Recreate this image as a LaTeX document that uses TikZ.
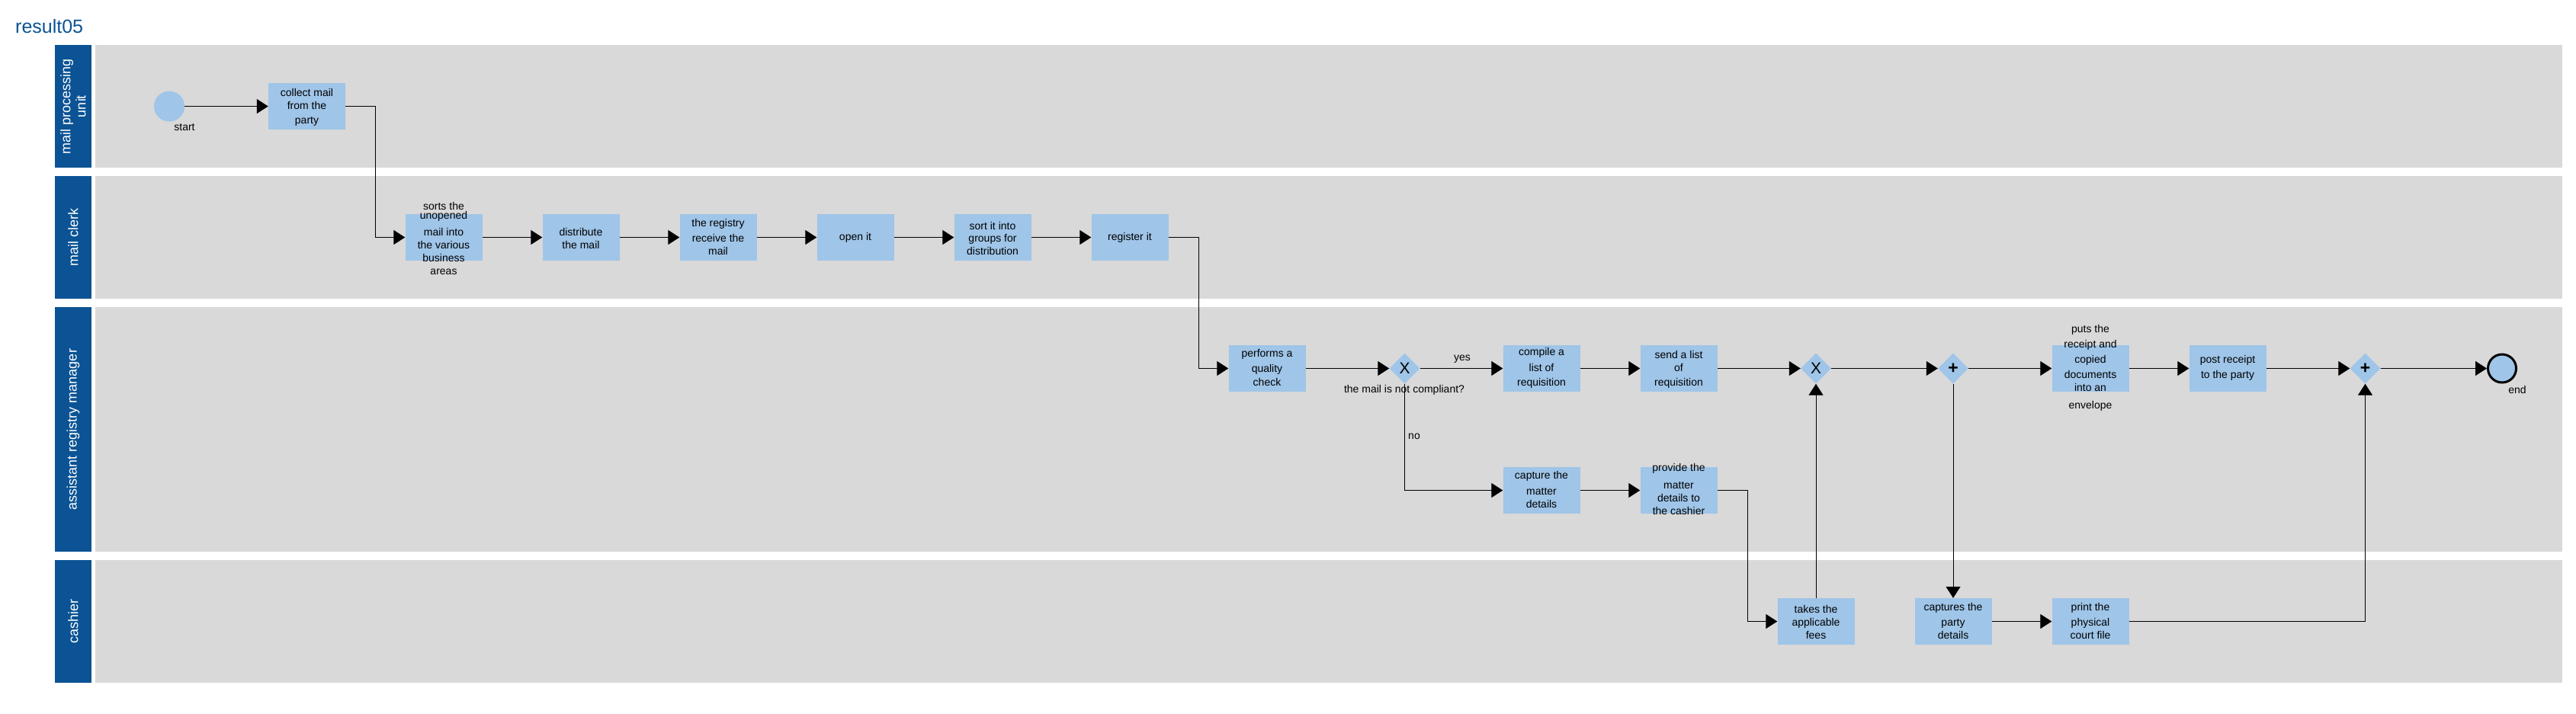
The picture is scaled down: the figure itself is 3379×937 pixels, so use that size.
\documentclass[tikz,border=0pt]{standalone}
\usepackage{fontspec}
\setmainfont{Liberation Sans}
\usetikzlibrary{shapes.geometric,arrows.meta,calc}
\definecolor{lanebg}{HTML}{D9D9D9}
\definecolor{hdrblue}{HTML}{0B5394}
\definecolor{taskblue}{HTML}{9FC5E8}
\begin{document}
\begin{tikzpicture}[x=1pt,y=-1pt,
  task/.style={rectangle, fill=taskblue, minimum width=101pt, minimum height=61pt, inner sep=0pt},
  ttext/.style={align=center, font=\fontsize{14}{18}\selectfont, inner sep=0pt},
  gate/.style={diamond, fill=taskblue, minimum width=40pt, minimum height=40pt, inner sep=0pt},
  xorg/.style={gate, font=\fontsize{21}{21}\selectfont},
  andg/.style={gate, font=\fontsize{23}{23}\selectfont\bfseries},
  evstart/.style={circle, fill=taskblue, minimum size=40pt, inner sep=0pt},
  evend/.style={circle, fill=taskblue, draw=black, line width=3pt, minimum size=37pt, inner sep=0pt},
  lbl/.style={font=\fontsize{14}{16}\selectfont, inner sep=0pt},
  flow/.style={line width=1.3pt, -{Triangle[length=15pt,width=19pt]}},
  thinflow/.style={flow, line width=1pt},
  lanebody/.style={fill=lanebg},
  lanehdr/.style={fill=hdrblue},
  hdrtext/.style={text=white, rotate=90, align=center, inner sep=0pt, font=\fontsize{18}{20}\selectfont}
]
\useasboundingbox (0,0) rectangle (3379,937);
\fill[white] (0,0) rectangle (3379,937);

% title
\node[anchor=base west, text=hdrblue, inner sep=0pt, font=\fontsize{25}{30}\selectfont] (title) at (20,43) {result05};

% lanes
\fill[lanehdr] (72,59) rectangle (120,220);
\fill[lanebody] (125,59) rectangle (3361,220);
\node[hdrtext] (h1) at (96,139.5) {mail processing\\unit};
\fill[lanehdr] (72,231) rectangle (120,392);
\fill[lanebody] (125,231) rectangle (3361,392);
\node[hdrtext] (h2) at (96,311.5) {mail clerk};
\fill[lanehdr] (72,403) rectangle (120,724);
\fill[lanebody] (125,403) rectangle (3361,724);
\node[hdrtext] (h3) at (96,563.5) {assistant registry manager};
\fill[lanehdr] (72,735) rectangle (120,896);
\fill[lanebody] (125,735) rectangle (3361,896);
\node[hdrtext] (h4) at (96,815.5) {cashier};

% lane 1
\node[evstart] (start) at (222,139.5) {};
\node[lbl] (startl) at (242,167) {start};
\node[task] (collect) at (402.5,139.5) {};
\node[ttext] at (402.5,141) {collect mail\\[-1pt]from the\\[1pt]party};

% lane 2
\node[task] (sorts) at (582,311.5) {};
\node[ttext] at (582,312.5) {sorts the\\[-6pt]unopened\\[4pt]mail into\\[-1pt]the various\\[-1pt]business\\[-1pt]areas};
\node[task] (distrib) at (762,311.5) {};
\node[ttext] at (762,312.5) {distribute\\[-1pt]the mail};
\node[task] (registry) at (942,311.5) {};
\node[ttext] at (942,310.5) {the registry\\[2pt]receive the\\[-1pt]mail};
\node[task] (openit) at (1122,311.5) {};
\node[ttext] at (1122,311.5) {open it};
\node[task] (sortit) at (1302,311.5) {};
\node[ttext] at (1302,312.5) {sort it into\\[-2pt]groups for\\[-1pt]distribution};
\node[task] (register) at (1482,311.5) {};
\node[ttext] at (1482,311.5) {register it};

% lane 3
\node[task] (qcheck) at (1662,483.5) {};
\node[ttext] at (1662,482) {performs a\\[2pt]quality\\check};
\node[xorg] (x1) at (1842.5,483.5) {X};
\node[lbl] (x1l) at (1842,512) {the mail is not compliant?};
\node[lbl] (yes) at (1918,471) {yes};
\node[lbl] (no) at (1855,573) {no};
\node[task] (compile) at (2022,483.5) {};
\node[ttext] at (2022,483) {compile a\\[3pt]list of\\[1pt]requisition};
\node[task] (sendlist) at (2202,483.5) {};
\node[ttext] at (2202,485) {send a list\\[-1pt]of\\[1pt]requisition};
\node[xorg] (x2) at (2382,483.5) {X};
\node[andg] (p1) at (2562,483.5) {+};
\node[task] (puts) at (2742,483.5) {};
\node[ttext] at (2742,483) {puts the\\[2pt]receipt and\\[2pt]copied\\[2pt]documents\\[-1pt]into an\\[5pt]envelope};
\node[task] (post) at (2922,483.5) {};
\node[ttext] at (2922,483) {post receipt\\[2pt]to the party};
\node[andg] (p2) at (3102.5,483.5) {+};
\node[evend] (endev) at (3282,483.5) {};
\node[lbl] (endl) at (3302,511) {end};

\node[task] (capture) at (2022,643.5) {};
\node[ttext] at (2022,642) {capture the\\[3pt]matter\\[-1pt]details};
\node[task] (provide) at (2202,643.5) {};
\node[ttext] at (2202,641.5) {provide the\\[5pt]matter\\[-1pt]details to\\[-1pt]the cashier};

% lane 4
\node[task] (takes) at (2382,815.5) {};
\node[ttext] at (2382,816) {takes the\\[-1pt]applicable\\[-1pt]fees};
\node[task] (captures) at (2562,815.5) {};
\node[ttext] at (2562,814.5) {captures the\\[2pt]party\\[-1pt]details};
\node[task] (print) at (2742,815.5) {};
\node[ttext] at (2742,814.5) {print the\\[2pt]physical\\[-1pt]court file};

% flows
\draw[flow] (start) -- (collect);
\draw[flow] (collect.east) -- ++(39.5,0) |- (sorts.west);
\draw[flow] (sorts) -- (distrib);
\draw[flow] (distrib) -- (registry);
\draw[flow] (registry) -- (openit);
\draw[flow] (openit) -- (sortit);
\draw[flow] (sortit) -- (register);
\draw[flow] (register.east) -- ++(40,0) |- (qcheck.west);
\draw[flow] (qcheck) -- (x1);
\draw[flow] (x1) -- (compile);
\draw[flow] (x1.south) |- (capture.west);
\draw[flow] (compile) -- (sendlist);
\draw[flow] (sendlist) -- (x2);
\draw[flow] (capture) -- (provide);
\draw[flow] (provide.east) -- ++(39.5,0) |- (takes.west);
\draw[thinflow] (takes.north) -- (x2.south);
\draw[flow] (x2) -- (p1);
\draw[flow] (p1) -- (puts);
\draw[thinflow] (p1.south) -- (captures.north);
\draw[flow] (captures) -- (print);
\draw[flow] (puts) -- (post);
\draw[flow] (post) -- (p2);
\draw[flow] (print.east) -| (p2.south);
\draw[flow] (p2) -- (endev);
\end{tikzpicture}
\end{document}
